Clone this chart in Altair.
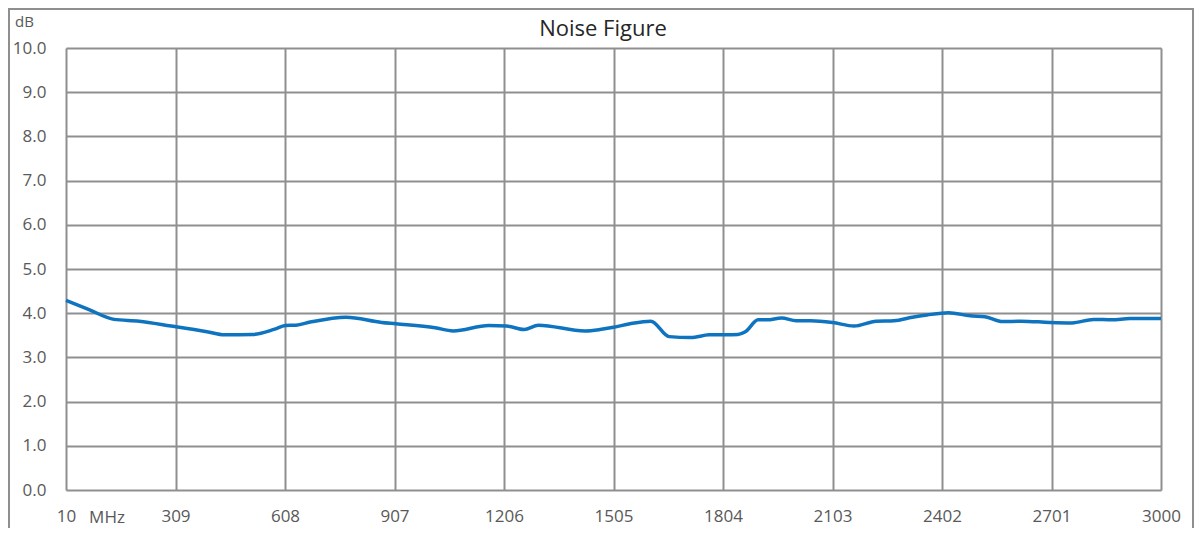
import altair as alt
import pandas as pd

freq_mhz = [10, 73, 141, 210, 297, 395, 443, 521, 580, 609, 638, 677, 775, 872, 911,
            1018, 1067, 1164, 1213, 1261, 1300, 1427, 1468, 1505, 1550, 1607, 1657, 1716,
            1766, 1845, 1865, 1900, 1924, 1964, 2004, 2043, 2103, 2162, 2222, 2271,
            2321, 2361, 2420, 2479, 2519, 2568, 2618, 2697, 2757, 2816, 2866, 2915, 3000]
noise_db = [4.29, 4.08, 3.86, 3.82, 3.71, 3.58, 3.51, 3.52, 3.64, 3.72, 3.73, 3.80, 3.91,
            3.79, 3.76, 3.67, 3.60, 3.72, 3.71, 3.63, 3.73, 3.60, 3.63, 3.68, 3.76, 3.82,
            3.47, 3.45, 3.51, 3.52, 3.58, 3.85, 3.85, 3.89, 3.83, 3.83, 3.79, 3.71, 3.82,
            3.83, 3.91, 3.96, 4.01, 3.94, 3.92, 3.81, 3.82, 3.79, 3.78, 3.86, 3.85, 3.88, 3.88]
x_ticks = [10, 309, 608, 907, 1206, 1505, 1804, 2103, 2402, 2701, 3000]
y_ticks = [0, 1, 2, 3, 4, 5, 6, 7, 8, 9, 10]

df = pd.DataFrame({"f": freq_mhz, "nf": noise_db})
one = pd.DataFrame({"a": [0]})

FONT = "Open Sans"
GRID = "#8f8f8f"
LABEL = "#595959"

x_enc = alt.X("f:Q", scale=alt.Scale(domain=[10, 3000], nice=False, zero=False),
              axis=alt.Axis(values=x_ticks, format="d", title=None, grid=True,
                            gridColor=GRID, gridWidth=2, domain=False, ticks=False,
                            labelPadding=18, labelFlush=False, labelOverlap=False,
                            labelFont=FONT, labelFontSize=17, labelColor=LABEL))
y_enc = alt.Y("nf:Q", scale=alt.Scale(domain=[0, 10], nice=False),
              axis=alt.Axis(values=y_ticks, format=".1f", title=None, grid=True,
                            gridColor=GRID, gridWidth=2, domain=False, ticks=False,
                            labelPadding=20, labelFont=FONT, labelFontSize=17,
                            labelColor=LABEL))

line = alt.Chart(df).mark_line(color="#0f74c0", strokeWidth=3.5,
                               interpolate="monotone").encode(x=x_enc, y=y_enc)

border = alt.Chart(one).mark_rect(fill=None, stroke=GRID, strokeWidth=2).encode(
    x=alt.value(-57), x2=alt.value(1127), y=alt.value(-39), y2=alt.value(600))

title = alt.Chart(one).mark_text(text="Noise Figure", font=FONT, fontSize=22,
                                 color="#262626", align="center",
                                 baseline="alphabetic").encode(
    x=alt.value(537), y=alt.value(-12))

unit_y = alt.Chart(one).mark_text(text="dB", font=FONT, fontSize=15, color=LABEL,
                                  align="left", baseline="alphabetic").encode(
    x=alt.value(-51), y=alt.value(-21))

unit_x = alt.Chart(one).mark_text(text="MHz", font=FONT, fontSize=17, color=LABEL,
                                  align="center", baseline="alphabetic").encode(
    x=alt.value(41), y=alt.value(474.5))

chart = alt.layer(border, line, title, unit_y, unit_x).properties(
    width=1095, height=442,
    autosize=alt.AutoSizeParams(type="none"),
    padding={"left": 58, "top": 40, "right": 33, "bottom": 38},
).configure_view(stroke=GRID, strokeWidth=2).configure(background="white")

chart.save("out.html", embed_options={"renderer": "svg", "actions": False})
